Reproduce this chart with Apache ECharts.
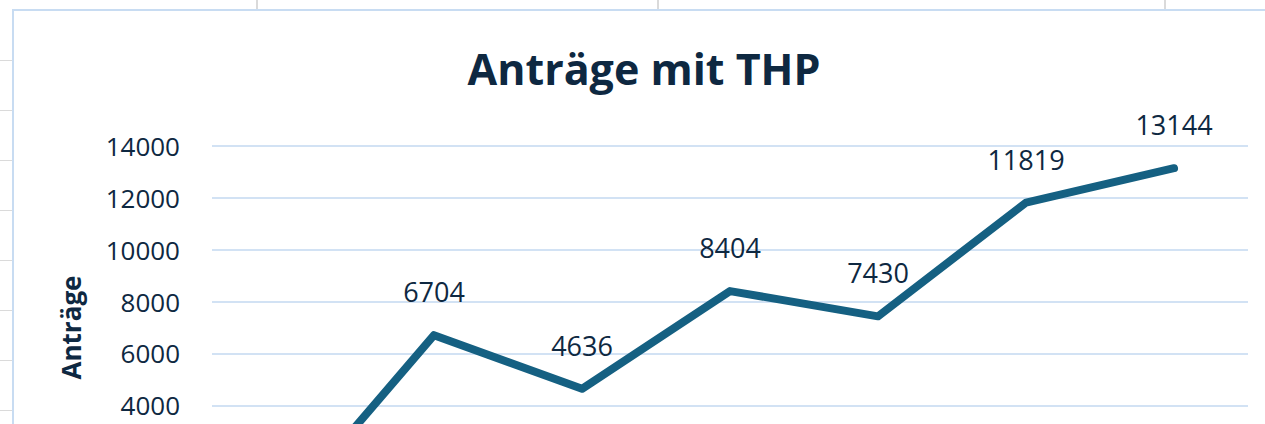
<!DOCTYPE html>
<html>
<head>
<meta charset="utf-8">
<script src="https://cdn.jsdelivr.net/npm/echarts@6/dist/echarts.min.js"></script>
<style>
    html, body { margin: 0; padding: 0; width: 1265px; height: 424px; overflow: hidden; background: #fff; }
    .cell-v { position: absolute; top: 0; width: 2px; height: 10px; background: #dadada; }
    .cell-h { position: absolute; left: 0; width: 12px; height: 1px; background: #dadada; }
    #chart {
        position: absolute; left: 12px; top: 9px;
        width: 1290px; height: 620px;
        border: 2px solid #c8dcf2; box-sizing: border-box; background: #fff;
    }
</style>
</head>
<body>
<div class="cell-v" style="left:256px"></div>
<div class="cell-v" style="left:657px"></div>
<div class="cell-v" style="left:1164px"></div>
<div class="cell-h" style="top:60px"></div>
<div class="cell-h" style="top:110px"></div>
<div class="cell-h" style="top:160px"></div>
<div class="cell-h" style="top:210px"></div>
<div class="cell-h" style="top:260px"></div>
<div class="cell-h" style="top:310px"></div>
<div class="cell-h" style="top:360px"></div>
<div class="cell-h" style="top:410px"></div>
<div id="chart"></div>
<script>
    // Daten (Kategorien liegen unterhalb des Bildausschnitts)
    const jahre = ['2017', '2018', '2019', '2020', '2021', '2022', '2023'];
    const antraege = [50, 6704, 4636, 8404, 7430, 11819, 13144];
    const yTicks = { min: 0, max: 14000, step: 2000 };
    // unterhalb von hier ist im Ausschnitt nichts mehr zu sehen
    const sichtbarAb = 4000;

    const textColor = '#0e2841';
    const lineColor = '#156082';
    const gridColor = '#c3d9f0';
    const font = '"Open Sans", "Liberation Sans", sans-serif';

    let chart = echarts.init(document.getElementById('chart'), null, { renderer: 'svg' });

    chart.setOption({
        animation: false,
        graphic: [{
            type: 'text',
            x: 630, y: 57,
            style: {
                text: 'Anträge mit THP',
                fill: textColor,
                font: 'bold 43px ' + font,
                align: 'center',
                verticalAlign: 'middle'
            }
        }],
        grid: { left: 198, top: 135, width: 1036, height: 363 },
        xAxis: {
            type: 'category',
            data: jahre,
            boundaryGap: true,
            axisLine: { lineStyle: { color: gridColor, width: 1.5 } },
            axisTick: { show: false },
            axisLabel: { show: false }
        },
        yAxis: {
            type: 'value',
            min: yTicks.min, max: yTicks.max, interval: yTicks.step,
            name: 'Anträge',
            nameLocation: 'middle',
            nameGap: 128,
            nameRotate: 90,
            nameTextStyle: { color: textColor, fontSize: 26, fontWeight: 'bold', fontFamily: font },
            axisLine: { show: false },
            axisTick: { show: false },
            axisLabel: {
                color: textColor, fontSize: 26, fontFamily: font, margin: 32,
                formatter: v => v >= sichtbarAb ? String(v) : ''
            },
            splitLine: { lineStyle: { color: gridColor, width: 1.5 } }
        },
        series: [{
            type: 'line',
            data: antraege,
            symbol: 'circle',
            symbolSize: 0.1,
            showSymbol: true,
            itemStyle: { color: lineColor },
            lineStyle: { color: lineColor, width: 8, cap: 'round', join: 'round' },
            label: {
                show: true,
                position: 'top',
                distance: 30,
                color: textColor,
                fontSize: 27,
                fontFamily: font,
                formatter: p => p.value >= sichtbarAb ? String(p.value) : ''
            }
        }]
    });
</script>
</body>
</html>
